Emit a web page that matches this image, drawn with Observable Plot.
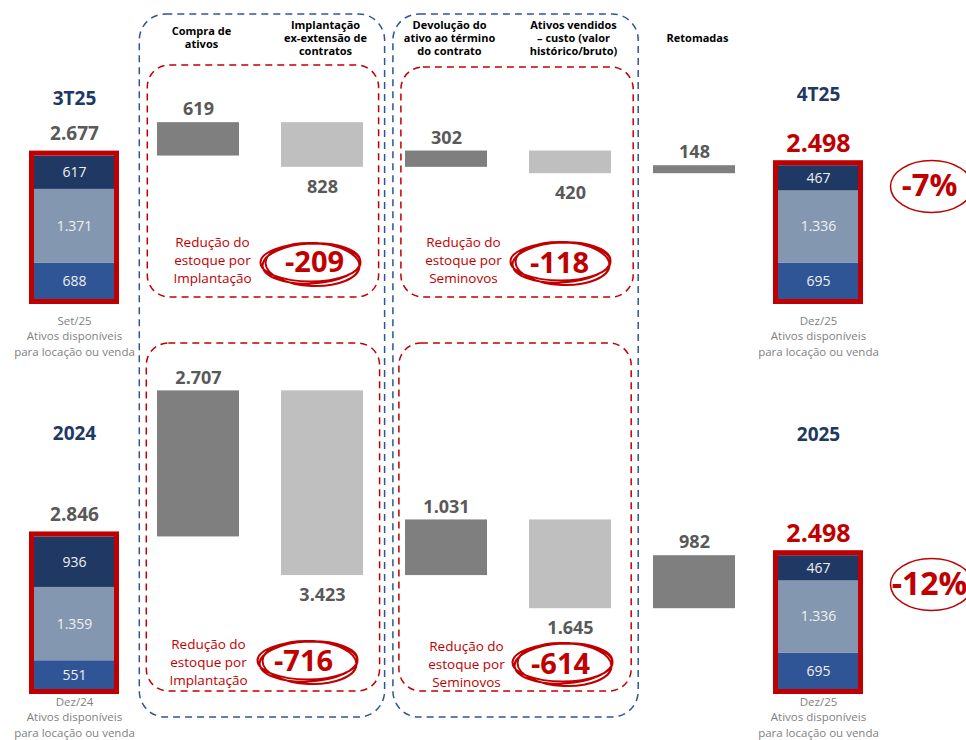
<!DOCTYPE html>
<html><head><meta charset="utf-8">
<script src="https://cdn.jsdelivr.net/npm/d3@7"></script>
<script src="https://cdn.jsdelivr.net/npm/@observablehq/plot@0.6"></script>
<style>
html,body{margin:0;padding:0;background:#fff;overflow:hidden;}
#chart svg{font-family:"Open Sans",sans-serif;}
</style></head><body><div id="chart"></div>
<script>
// ---------- data ----------
const columns = ["ini","compra","impl","devol","vend","retom","fim","var"];
const stepKeys = ["compra","impl","devol","vend","retom"];
const stepHeaders = ["Compra de\nativos","Implantação\nex-extensão de\ncontratos","Devolução do\nativo ao término\ndo contrato","Ativos vendidos\n– custo (valor\nhistórico/bruto)","Retomadas"];
const stepSigns = [1,-1,1,-1,1];
const stepsQuarter = [619,828,302,420,148];
const stepsYear = [2707,3423,1031,1645,982];
const layers = ["base","meio","topo"];
const layerColors = ["#2f5597","#8497b0","#203864"];
const stock3T25 = [688,1371,617];
const stock4T25 = [695,1336,467];
const stock2024 = [551,1359,936];
const stock2025 = [695,1336,467];
const periodNames = ["3T25","4T25","2024","2025"];
const periodDates = ["Set/25","Dez/25","Dez/24","Dez/25"];
const periodTotals = [2677,2498,2846,2498];
const reductionLabels = ["Redução do\nestoque por\nImplantação","Redução do\nestoque por\nSeminovos"];
const reductionsQuarter = [-209,-118];
const reductionsYear = [-716,-614];
const changeLabels = ["-7%","-12%"];
const captionText = "Ativos disponíveis\npara locação ou venda";

// ---------- helpers ----------
const fmt = d3.formatLocale({decimal:",",thousands:".",grouping:[3],currency:["R$",""],minus:"-"}).format(",d");
const RED = "#c00000", BLUE = "#2f5597", GRAY_TXT = "#595959";

function stackRows(col, values){ let acc = 0; return values.map((v,i)=>({col, layer:layers[i], lo:acc, hi:(acc+=v), value:v})); }
function waterfall(start, steps){ let level = start; return stepKeys.map((k,i)=>{ const from = level; level += stepSigns[i]*steps[i]; return {col:k, from, to:level, value:steps[i], up:stepSigns[i]>0}; }); }

function ellipsePath(ctx, rx, ry, rot, ox, oy){
  const k = 0.5523, c = Math.cos(rot), s = Math.sin(rot);
  const P = (x,y)=>[ox + x*c - y*s, oy + x*s + y*c];
  ctx.moveTo(...P(rx,0));
  ctx.bezierCurveTo(...P(rx,ry*k),...P(rx*k,ry),...P(0,ry));
  ctx.bezierCurveTo(...P(-rx*k,ry),...P(-rx,ry*k),...P(-rx,0));
  ctx.bezierCurveTo(...P(-rx,-ry*k),...P(-rx*k,-ry),...P(0,-ry));
  ctx.bezierCurveTo(...P(rx*k,-ry),...P(rx,-ry*k),...P(rx,0));
}
const scribble = (rx, ry) => ({draw(ctx){
  ellipsePath(ctx, rx, ry, -0.05, 0, 0);
  ellipsePath(ctx, rx-2, ry+1.5, 0.04, 1, 1);
  ellipsePath(ctx, rx+1, ry-1, 0.0, -1, -1);
}});
const oval = (rx, ry) => ({draw(ctx){ ellipsePath(ctx, rx, ry, 0, 0, 0); }});

// ---------- panels (layout offsets in pixels) ----------
const panels = [
  {dy:0,   startStock:stock3T25, endStock:stock4T25, steps:stepsQuarter, pi:[0,1], reductions:reductionsQuarter, change:changeLabels[0],
   titleY:98, endTitleY:94, pctY:186, capDy:14,
   red:[{ldx:14, ly:259, ndx:-8, ny:262, edx:-11, ey:263},{ldx:17, ly:259, ndx:-11, ny:263, edx:-9, ey:262}]},
  {dy:390, startStock:stock2024, endStock:stock2025, steps:stepsYear, pi:[2,3], reductions:reductionsYear, change:changeLabels[1],
   titleY:433, endTitleY:434, pctY:584, capDy:5,
   red:[{ldx:10, ly:661, ndx:-19, ny:661, edx:-14, ey:661},{ldx:20, ly:663, ndx:-10, ny:664, edx:-7, ey:663}]}
];
const redGroups = [{labelCol:"compra", numCol:"impl"},{labelCol:"devol", numCol:"vend"}];

const boxStyle = {fill:"none", strokeWidth:1.5, strokeDasharray:"7,5"};
const marks = [];
// blue dashed group boxes (span both panels)
marks.push(Plot.rect([0], {x1:()=>"compra", x2:()=>"impl", insetLeft:-17.7, insetRight:-21.6, insetTop:14, insetBottom:23, rx:26, stroke:BLUE, ...boxStyle}));
marks.push(Plot.rect([0], {x1:()=>"devol", x2:()=>"vend", insetLeft:-12.1, insetRight:-27.2, insetTop:14, insetBottom:23, rx:26, stroke:BLUE, ...boxStyle}));
// red dashed boxes
marks.push(Plot.rect([0], {x1:()=>"compra", x2:()=>"impl", insetLeft:-9.7, insetRight:-15.6, insetTop:65, insetBottom:443, rx:22, stroke:RED, ...boxStyle}));
marks.push(Plot.rect([0], {x1:()=>"devol", x2:()=>"vend", insetLeft:-4.1, insetRight:-22.2, insetTop:67, insetBottom:443, rx:22, stroke:RED, ...boxStyle}));
marks.push(Plot.rect([0], {x1:()=>"compra", x2:()=>"impl", insetLeft:-10.7, insetRight:-16.6, insetTop:343, insetBottom:49, rx:22, stroke:RED, ...boxStyle}));
marks.push(Plot.rect([0], {x1:()=>"devol", x2:()=>"vend", insetLeft:-6.1, insetRight:-20.2, insetTop:343, insetBottom:49, rx:22, stroke:RED, ...boxStyle}));

// column headers
marks.push(Plot.text(stepKeys, {x:d=>d, text:(d,i)=>stepHeaders[i], frameAnchor:"top", dy:37, dx:3, lineAnchor:"middle", fontWeight:700, fontSize:11, lineHeight:1.2, fill:"#000"}));

panels.forEach(p => {
  const [si, ei] = p.pi;
  const stacks = [...stackRows("ini", p.startStock), ...stackRows("fim", p.endStock)];
  const borders = [{col:"ini", sum:d3.sum(p.startStock)}, {col:"fim", sum:d3.sum(p.endStock)}];
  const wf = waterfall(periodTotals[si], p.steps);
  const periods = [{col:"ini", i:si}, {col:"fim", i:ei}];

  // stacked stock bars
  marks.push(Plot.barY(stacks, {x:"col", y1:"lo", y2:"hi", fill:"layer", insetLeft:1, insetRight:1, dy:p.dy}));
  marks.push(Plot.barY(borders, {x:"col", y1:()=>0, y2:"sum", fill:"none", stroke:RED, strokeWidth:5, insetLeft:-1.5, insetRight:-1.5, insetTop:-2.5, insetBottom:-1.5, dy:p.dy}));
  marks.push(Plot.text(stacks, {x:"col", y:d=>(d.lo+d.hi)/2, text:d=>fmt(d.value), fill:"#f0f0f0", fontSize:14, dy:p.dy}));

  // totals above stacks
  marks.push(Plot.text([borders[0]], {x:"col", y:"sum", text:()=>fmt(periodTotals[si]), fill:GRAY_TXT, fontWeight:700, fontSize:19, dy:p.dy-22}));
  marks.push(Plot.text([borders[1]], {x:"col", y:"sum", text:()=>fmt(periodTotals[ei]), fill:RED, fontWeight:700, fontSize:25, dy:p.dy-22}));

  // captions below stacks
  marks.push(Plot.text(periods, {x:"col", y:()=>0, text:d=>periodDates[d.i]+"\n"+captionText, lineAnchor:"top", dy:p.dy+p.capDy, fill:"#7f7f7f", fontSize:11.5, lineHeight:1.32}));

  // period titles
  marks.push(Plot.text([periods[0]], {x:"col", text:d=>periodNames[d.i], frameAnchor:"top", lineAnchor:"middle", dy:p.titleY, fill:"#203864", fontWeight:700, fontSize:19}));
  marks.push(Plot.text([periods[1]], {x:"col", text:d=>periodNames[d.i], frameAnchor:"top", lineAnchor:"middle", dy:p.endTitleY, fill:"#203864", fontWeight:700, fontSize:19}));

  // waterfall bars
  marks.push(Plot.barY(wf.filter(d=>d.up), {x:"col", y1:"from", y2:"to", fill:"#7f7f7f", dy:p.dy}));
  marks.push(Plot.barY(wf.filter(d=>!d.up), {x:"col", y1:"from", y2:"to", fill:"#bfbfbf", dy:p.dy}));
  marks.push(Plot.text(wf.filter(d=>d.up), {x:"col", y:"to", text:d=>fmt(d.value), fill:GRAY_TXT, fontWeight:700, fontSize:18, dy:p.dy-13}));
  marks.push(Plot.text(wf.filter(d=>!d.up), {x:"col", y:"to", text:d=>fmt(d.value), fill:GRAY_TXT, fontWeight:700, fontSize:18, dy:p.dy+20}));

  // reductions
  redGroups.forEach((g, j) => {
    const o = p.red[j];
    marks.push(Plot.text([g], {x:"labelCol", text:()=>reductionLabels[j], frameAnchor:"top", dy:o.ly, dx:o.ldx, lineAnchor:"middle", fill:RED, fontSize:13.5, lineHeight:1.32}));
    marks.push(Plot.text([g], {x:"numCol", text:()=>fmt(p.reductions[j]), frameAnchor:"top", lineAnchor:"middle", dy:o.ny, dx:o.ndx, fill:RED, fontWeight:700, fontSize:29}));
    marks.push(Plot.dot([g], {x:"numCol", frameAnchor:"top", dy:o.ey, dx:o.edx, symbol:scribble(49, 20), fill:"none", stroke:RED, strokeWidth:2}));
  });

  // percentage change
  marks.push(Plot.text(["var"], {x:d=>d, text:()=>p.change, frameAnchor:"top", lineAnchor:"middle", dy:p.pctY, dx:-13, fill:RED, fontWeight:700, fontSize:p.change.length>3?32:31}));
  marks.push(Plot.dot(["var"], {x:d=>d, frameAnchor:"top", dy:p.pctY, dx:-11, symbol:oval(41, 26), fill:"none", stroke:RED, strokeWidth:1.5}));
});

const chart = Plot.plot({
  width:966, height:740, margin:0,
  style:{fontFamily:"Open Sans, sans-serif", background:"#fff", overflow:"hidden"},
  x:{type:"band", domain:columns, range:[30,984.9], paddingInner:0.34242, paddingOuter:0, axis:null},
  y:{domain:[0,5560], range:[300,0], axis:null},
  color:{domain:layers, range:layerColors},
  marks
});
document.getElementById("chart").appendChild(chart);
</script></body></html>
